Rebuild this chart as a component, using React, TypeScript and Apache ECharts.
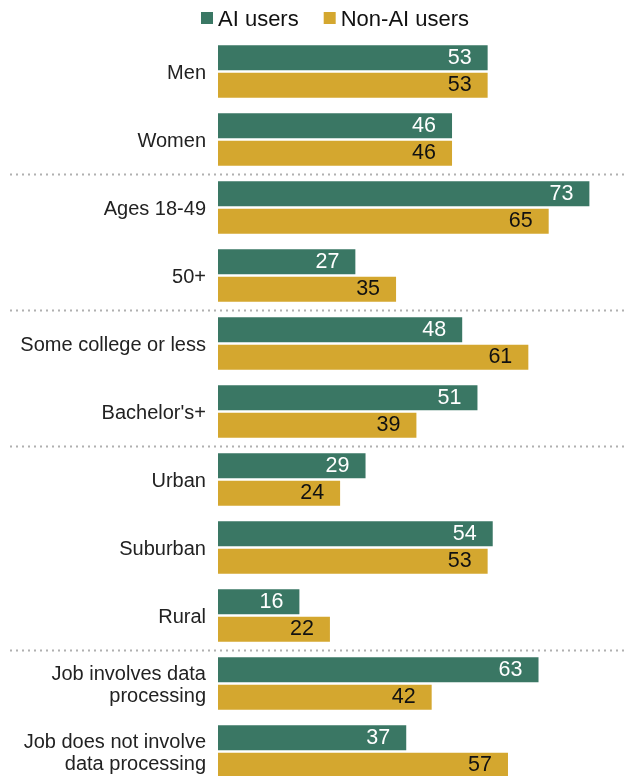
import React, { useEffect, useRef } from "react";
import * as echarts from "echarts";

const categories = [
  "Men",
  "Women",
  "Ages 18-49",
  "50+",
  "Some college or less",
  "Bachelor's+",
  "Urban",
  "Suburban",
  "Rural",
  "Job involves data\nprocessing",
  "Job does not involve\ndata processing",
];
const aiUsers = [53, 46, 73, 27, 48, 51, 29, 54, 16, 63, 37];
const nonAiUsers = [53, 46, 65, 35, 61, 39, 24, 53, 22, 42, 57];
const groupStarts = [2, 4, 6, 9];
const seriesNames = ["AI users", "Non-AI users"];

const GREEN = "#3a7764";
const GOLD = "#d4a72f";
const FONT = "Liberation Sans";

export default function App() {
  const ref = useRef<HTMLDivElement>(null);
  useEffect(() => {
    if (!ref.current) return;
    const chart = echarts.init(ref.current, null, { renderer: "svg" });
    chart.setOption({
      animation: false,
      textStyle: { fontFamily: FONT },
      legend: {
        data: seriesNames,
        left: 201,
        top: 7,
        padding: 0,
        icon: "rect",
        itemWidth: 12,
        itemHeight: 12,
        itemGap: 25,
        textStyle: { fontSize: 22, color: "#111", fontFamily: FONT },
      },
      grid: { left: 218, top: 37.5, width: 409.5, height: 748 },
      xAxis: {
        type: "value",
        min: 0,
        max: 80,
        show: false,
      },
      yAxis: {
        type: "category",
        data: categories,
        inverse: true,
        axisLine: { show: false },
        axisTick: { show: false },
        splitLine: { show: false },
        axisLabel: {
          margin: 12,
          fontSize: 20,
          lineHeight: 22,
          color: "#222",
          fontFamily: FONT,
        },
      },
      series: [
        {
          name: seriesNames[0],
          type: "bar",
          data: aiUsers,
          barWidth: 25,
          barGap: "10%",
          itemStyle: { color: GREEN },
          label: {
            show: true,
            position: "insideRight",
            distance: 16,
            offset: [0, -1],
            color: "#fff",
            fontSize: 21.5,
            lineHeight: 18,
            fontFamily: FONT,
          },
        },
        {
          name: seriesNames[1],
          type: "bar",
          data: nonAiUsers,
          barWidth: 25,
          barGap: "10%",
          itemStyle: { color: GOLD },
          label: {
            show: true,
            position: "insideRight",
            distance: 16,
            offset: [0, -1],
            color: "#111",
            fontSize: 21.5,
            lineHeight: 18,
            fontFamily: FONT,
          },
        },
      ],
    });
    const lines = groupStarts.map((i) => {
      const a = chart.convertToPixel({ yAxisIndex: 0 }, categories[i - 1]) as number;
      const b = chart.convertToPixel({ yAxisIndex: 0 }, categories[i]) as number;
      const y = Math.round((a + b) / 2) + 0.5;
      return {
        type: "line",
        shape: { x1: 10, y1: y, x2: 625, y2: y },
        style: { stroke: "#b0b0b0", lineWidth: 2, lineDash: [2, 4] },
        silent: true,
      };
    });
    chart.setOption({ graphic: lines });
    return () => chart.dispose();
  }, []);
  return (
    <div
      ref={ref}
      style={{ position: "fixed", left: 0, top: 0, width: 625, height: 800 }}
    />
  );
}
